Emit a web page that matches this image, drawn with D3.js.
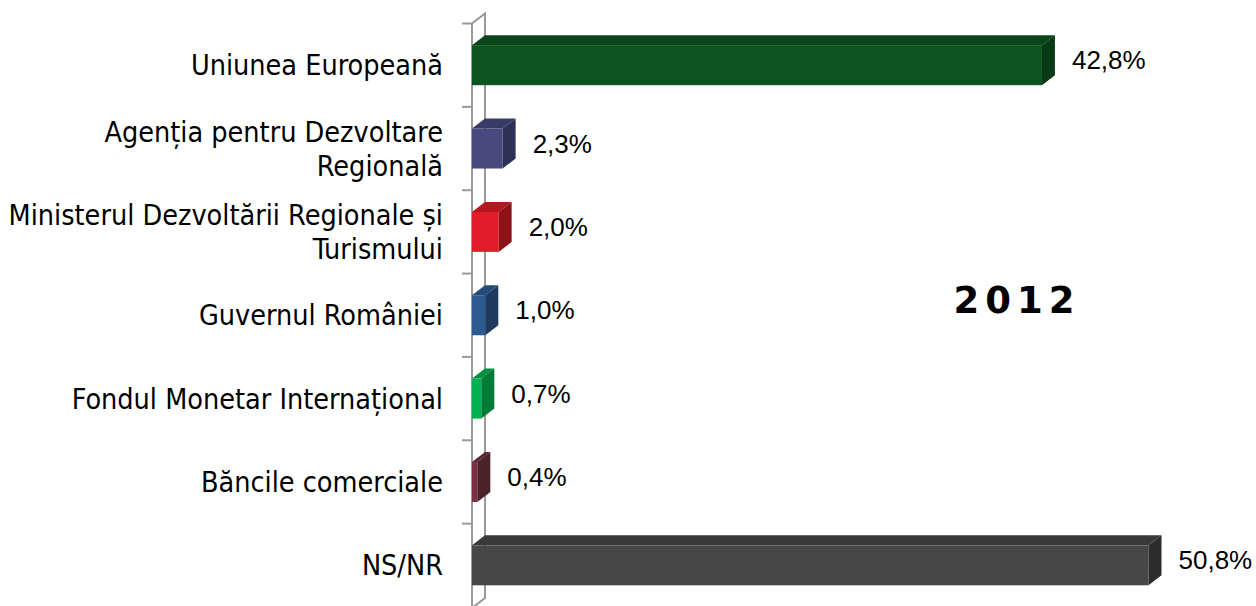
<!DOCTYPE html>
<html>
<head>
<meta charset="utf-8">
<script src="https://cdn.jsdelivr.net/npm/d3@7"></script>
<style>
  body { margin: 0; background: #fff; }
  .cat { font-family: 'DejaVu Sans Condensed', 'DejaVu Sans', sans-serif; font-size: 28.5px; fill: #000; }
  .val { font-family: 'Liberation Sans', Arial, sans-serif; font-size: 26px; fill: #000; }
  .year { font-family: 'DejaVu Sans', sans-serif; font-weight: bold; font-size: 37px; letter-spacing: 6px; }
</style>
</head>
<body>
<svg class="chart"></svg>
<script>
let categories = [
  ['Uniunea Europeană'],
  ['Agenția pentru Dezvoltare', 'Regională'],
  ['Ministerul Dezvoltării Regionale și', 'Turismului'],
  ['Guvernul României'],
  ['Fondul Monetar Internațional'],
  ['Băncile comerciale'],
  ['NS/NR']
]
let values = [42.8, 2.3, 2.0, 1.0, 0.7, 0.4, 50.8]
let valueLabels = ['42,8%', '2,3%', '2,0%', '1,0%', '0,7%', '0,4%', '50,8%']
// front, top, side
let colorGroup = [
  ['#0d5421', '#0a441a', '#083a16'],
  ['#464a7e', '#383b66', '#2e3157'],
  ['#e21d2a', '#b3161f', '#8c1218'],
  ['#2e5a92', '#244a78', '#1f3a5e'],
  ['#00b24f', '#009040', '#007a35'],
  ['#7a3040', '#5e2631', '#4a2229'],
  ['#474747', '#393939', '#2c2c2c']
]

let svg_width = 1256, svg_height = 606
let x0 = 472          // front wall position
let dx = 13, dy = -10 // depth offset
let barH = 40

let svg = d3.select('.chart')
  .attr('width', svg_width)
  .attr('height', svg_height)

let scaleY = d3.scaleBand()
  .domain(d3.range(values.length))
  .range([23.5, 607])

let scaleX = d3.scaleLinear()
  .domain([0, 60])
  .range([0, 799])

// wall (axis)
let wall = svg.append('g').attr('stroke', '#999').attr('stroke-width', 2).attr('fill', 'none')
wall.append('path')
  .attr('d', `M${x0},${svg_height + 2} L${x0},${scaleY.range()[0]} L${x0 + dx},${scaleY.range()[0] + dy} L${x0 + dx},${svg_height - 8} L${x0},${svg_height + 2}`)

let tickYs = scaleY.domain().map(i => scaleY(i)).concat([scaleY.range()[1]])
wall.selectAll('line.tick')
  .data(tickYs)
  .enter()
  .append('line')
  .attr('x1', x0 - 10).attr('x2', x0)
  .attr('y1', d => d).attr('y2', d => d)

// bars
let bars = svg.selectAll('g.bar')
  .data(values)
  .enter()
  .append('g')
  .attr('class', 'bar')

function frontTop(i) { return scaleY(i) + scaleY.bandwidth() / 2 - barH / 2 }

bars.append('rect')
  .attr('x', x0)
  .attr('y', (d, i) => frontTop(i))
  .attr('width', d => scaleX(d))
  .attr('height', barH)
  .attr('fill', (d, i) => colorGroup[i][0])

bars.append('path')
  .attr('d', (d, i) => {
    let t = frontTop(i), r = x0 + scaleX(d)
    return `M${x0},${t} L${x0 + dx},${t + dy} L${r + dx},${t + dy} L${r},${t} Z`
  })
  .attr('fill', (d, i) => colorGroup[i][1])

bars.append('path')
  .attr('d', (d, i) => {
    let t = frontTop(i), r = x0 + scaleX(d)
    return `M${r},${t} L${r + dx},${t + dy} L${r + dx},${t + dy + barH} L${r},${t + barH} Z`
  })
  .attr('fill', (d, i) => colorGroup[i][2])

// value labels
svg.selectAll('text.val')
  .data(values)
  .enter()
  .append('text')
  .attr('class', 'val')
  .attr('x', d => x0 + scaleX(d) + dx + 17)
  .attr('y', (d, i) => scaleY(i) + scaleY.bandwidth() / 2 - 5)
  .attr('dy', '0.35em')
  .text((d, i) => valueLabels[i])

// category labels
let cats = svg.selectAll('text.cat')
  .data(categories)
  .enter()
  .append('text')
  .attr('class', 'cat')
  .attr('text-anchor', 'end')
  .attr('y', (d, i) => scaleY(i) + scaleY.bandwidth() / 2 + 10)

cats.selectAll('tspan')
  .data(d => d.map((line, j) => ({ line, j, n: d.length })))
  .enter()
  .append('tspan')
  .attr('x', 443)
  .attr('dy', d => d.j === 0 ? -(d.n - 1) * 17 : 34)
  .text(d => d.line)

svg.append('text')
  .attr('class', 'year')
  .attr('x', 1017)
  .attr('y', 313)
  .attr('text-anchor', 'middle')
  .text('2012')
</script>
</body>
</html>
